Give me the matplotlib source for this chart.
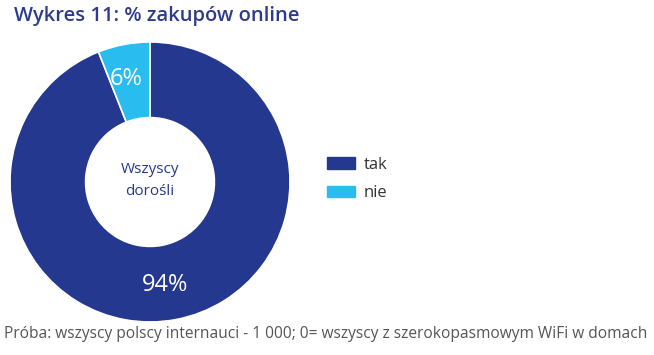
import math
import matplotlib.pyplot as plt
from matplotlib.patches import Patch

labels = ["tak", "nie"]
values = [94, 6]
colors = ["#253890", "#29bdef"]

title = "Wykres 11: % zakupów online"
center_text = "Wszyscy\ndorośli"
note = "Próba: wszyscy polscy internauci - 1 000; 0= wszyscy z szerokopasmowym WiFi w domach"

plt.rcParams['font.family'] = ['Open Sans', 'DejaVu Sans']

fig = plt.figure(figsize=(6.54, 3.55), dpi=100)
W, H = 654, 355
cx, cy, r = 150, 182, 140
ax = fig.add_axes([(cx - r) / W, (H - cy - r) / H, 2 * r / W, 2 * r / H])

wedges, _ = ax.pie(values, colors=colors, startangle=90, counterclock=False,
                   radius=1, wedgeprops=dict(width=0.54, edgecolor="white", linewidth=1.2))
ax.set_xlim(-1, 1)
ax.set_ylim(-1, 1)
ax.set_aspect("equal")

# percentage labels inside the ring
start = 90
for v in values:
    mid = start - v / 100 * 360 / 2
    start -= v / 100 * 360
    rr = 0.75
    ax.text(rr * math.cos(math.radians(mid)) - 0.03, rr * math.sin(math.radians(mid)),
            "%d%%" % v, color="white", ha="center", va="center", fontsize=17)

ax.text(0, 0.01, center_text, ha="center", va="center", color="#253890",
        fontsize=11, linespacing=1.6)

fig.text(14 / W, 1 - 16 / H, title, color="#2e3b8c", fontsize=14.5,
         ha="left", va="center", fontweight="semibold")
fig.text(4 / W, 1 - 334 / H, note, color="#555555", fontsize=11.2,
         ha="left", va="center")

handles = [Patch(color=c, label=l) for c, l in zip(colors, labels)]
fig.legend(handles=handles, loc="center left", bbox_to_anchor=(312 / W, 1 - 179 / H),
           frameon=False, fontsize=12, handlelength=1.65, handleheight=0.7,
           labelspacing=0.75, handletextpad=0.55, labelcolor="#333333")

fig.savefig("out.png", dpi=100)
